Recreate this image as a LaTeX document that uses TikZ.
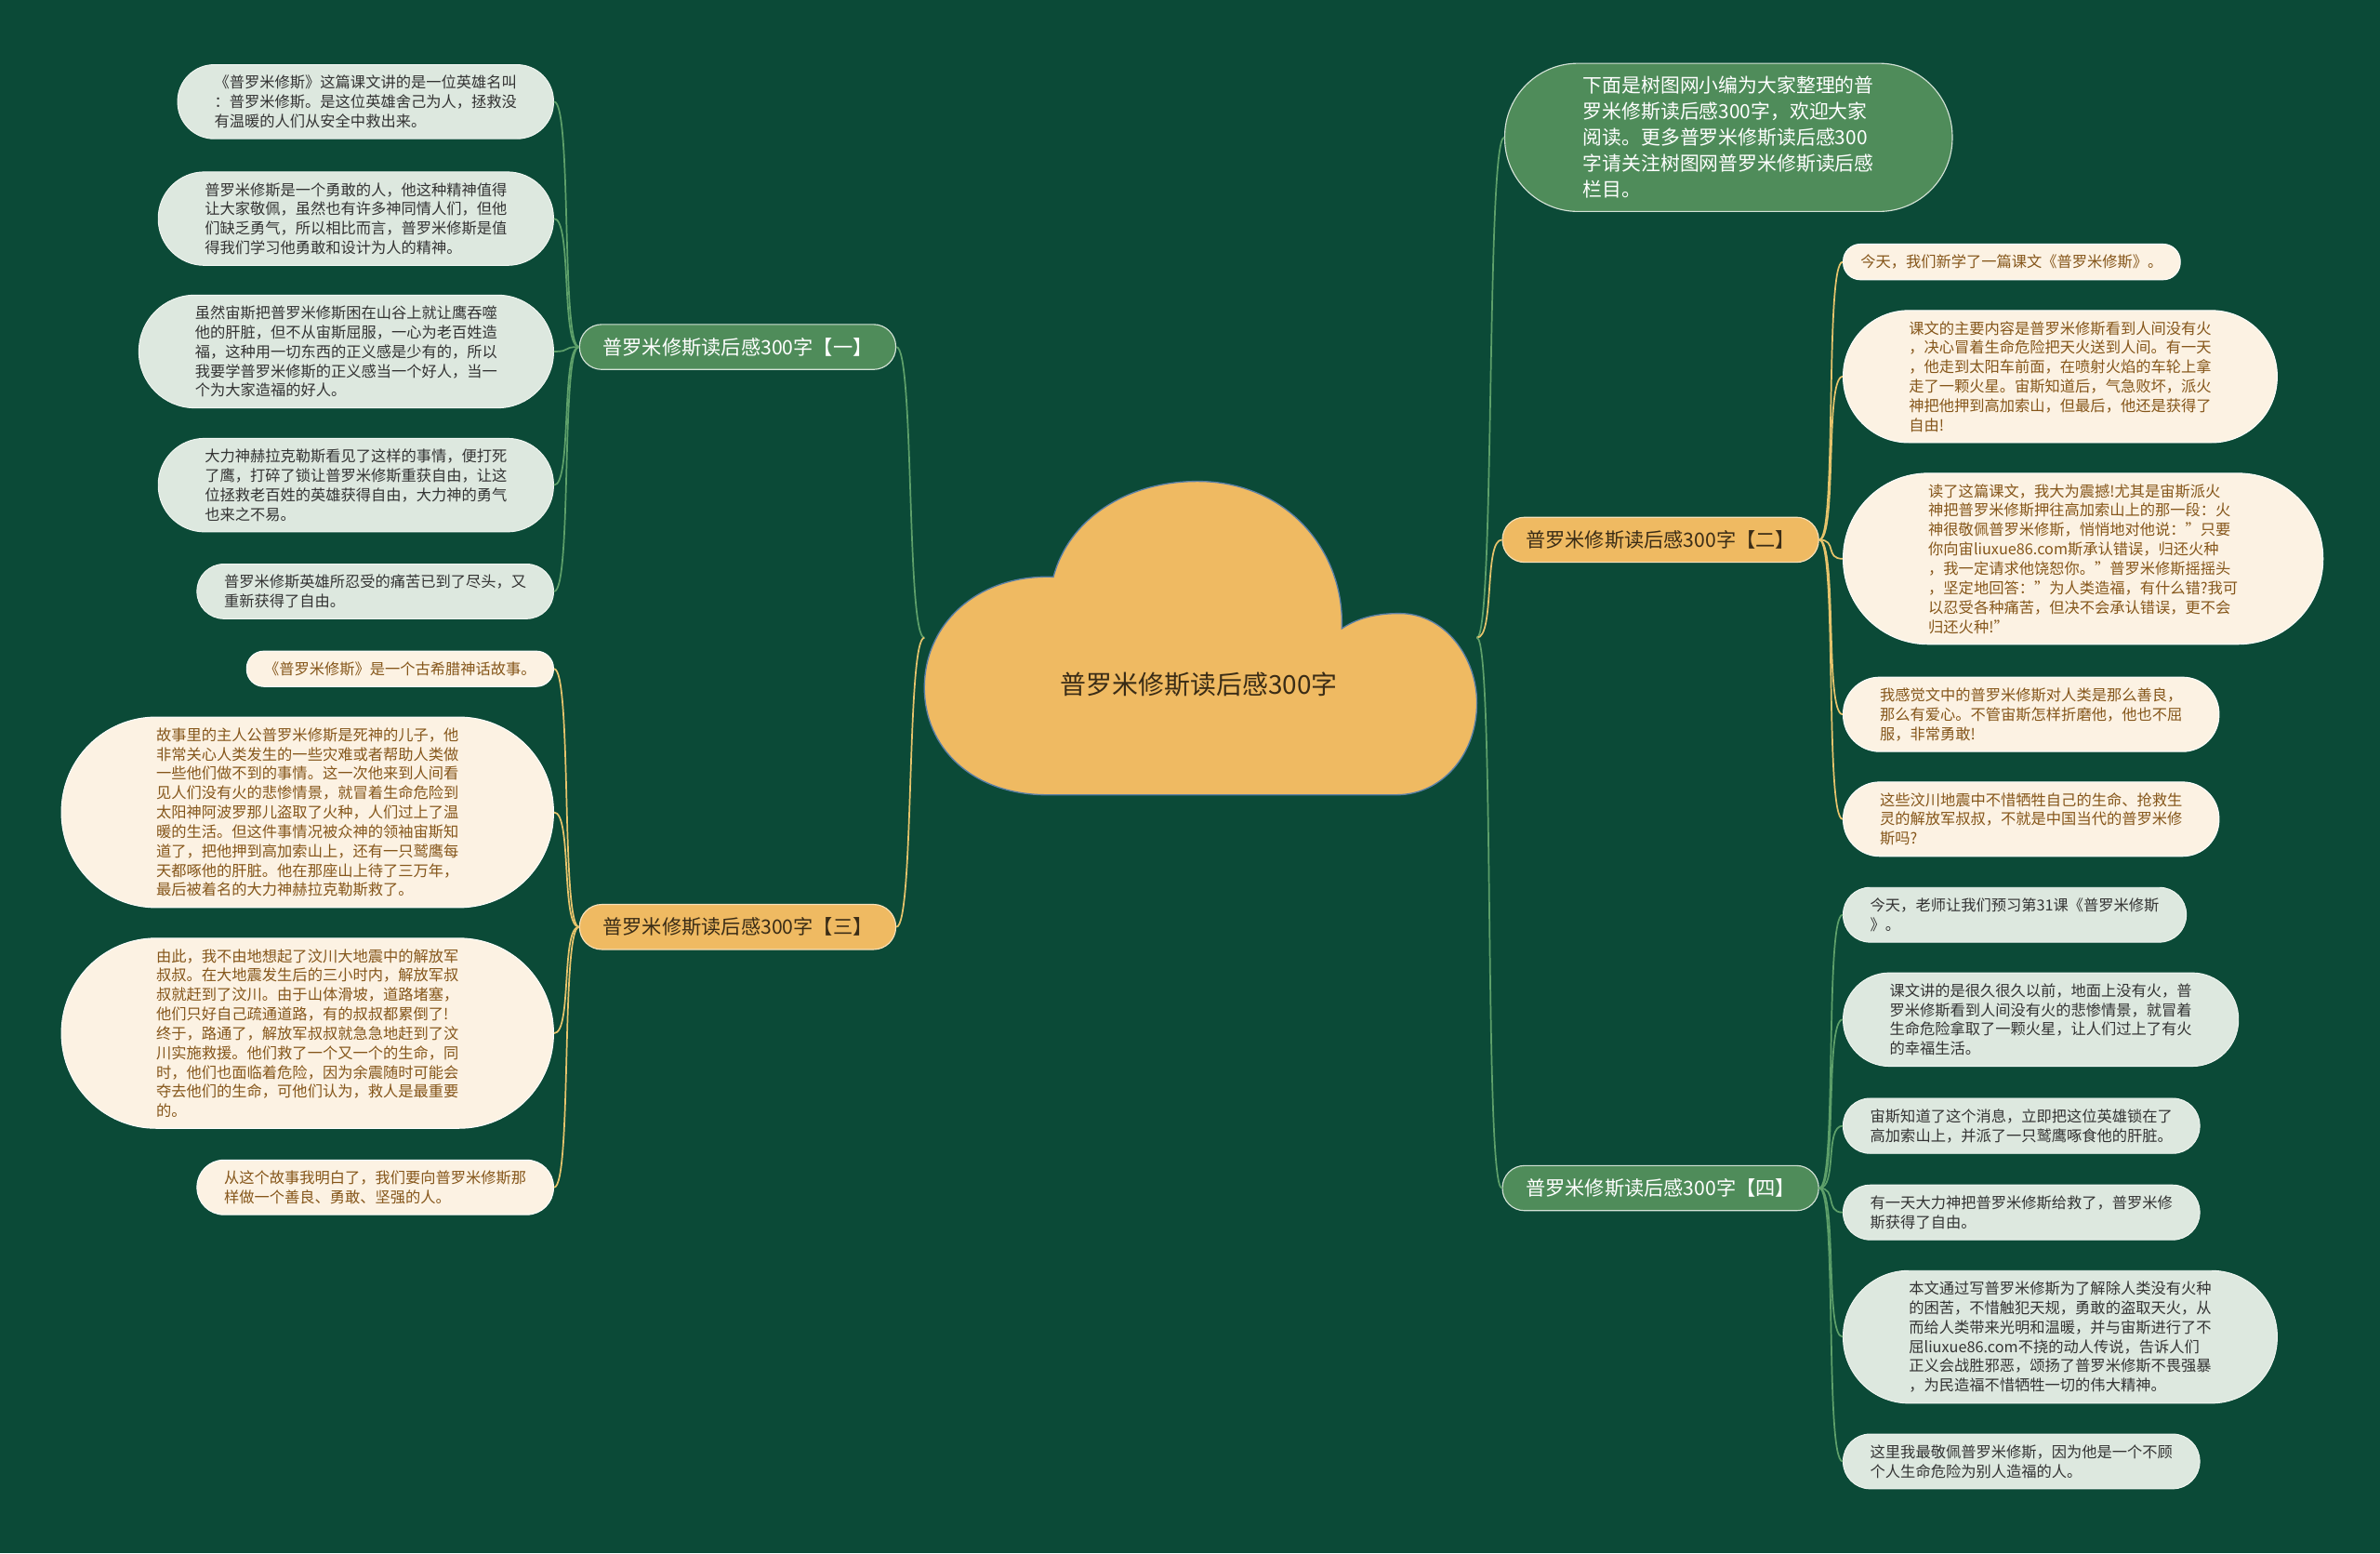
\documentclass[tikz,border=0pt]{standalone}
\usepackage{fontspec}
\setmainfont{Noto Sans CJK SC}
\usepackage{xcolor}
\usepackage{tikz}

\definecolor{bgdark}{HTML}{0B4A37}
\definecolor{nodegreen}{HTML}{4F8C5A}
\definecolor{leafgreen}{HTML}{DDE8DF}
\definecolor{leafcream}{HTML}{FCF2E3}
\definecolor{gold}{HTML}{EFBA62}
\definecolor{linegreen}{HTML}{5EA06A}
\definecolor{lineyellow}{HTML}{E7C46C}
\definecolor{inkbrown}{HTML}{85561A}
\definecolor{inkdark}{HTML}{3A2C16}
\definecolor{cloudedge}{HTML}{5A7FA6}

\begin{document}
\begin{tikzpicture}[
  x=0.3mm, y=-0.3mm,
  pill/.style    = {rounded corners={(#1-1)*1.914mm+3.4mm},
                    inner xsep={(#1-1)*1.914mm+3.45mm}},
  leaf/.style    = {draw, inner ysep=2.1mm, align=left,
                    font=\fontsize{8.5}{10.9}\selectfont, line width=0.5pt},
  leafg/.style   = {leaf, fill=leafgreen, draw=white!60!leafgreen, text=black!80},
  leafy/.style   = {leaf, fill=leafcream, draw=white, text=inkbrown},
  branch/.style  = {draw, rounded corners=4.4mm, minimum height=8.9mm, inner xsep=4.6mm,
                    inner ysep=0pt, font=\fontsize{11.1}{12}\selectfont, line width=0.6pt},
  branchg/.style = {branch, fill=nodegreen, draw=white!75!nodegreen, text=white},
  branchy/.style = {branch, fill=gold, draw=white!55!gold, text=inkdark},
  intro/.style   = {draw, rounded corners=14.5mm, inner xsep=15.5mm, inner ysep=2.6mm,
                    align=left, fill=nodegreen, draw=white!75!nodegreen, text=white,
                    line width=0.6pt, font=\fontsize{10.9}{14.6}\selectfont},
  gline/.style   = {draw=linegreen, line width=0.9pt},
  yline/.style   = {draw=lineyellow, line width=0.9pt}
]

% ── Canvas ───────────────────────────────────────────────────────────────────
\fill[bgdark] (0,0) rectangle (1568,1023);
\useasboundingbox (0,0) rectangle (1568,1023);

% ── Root cloud ───────────────────────────────────────────────────────────────
\filldraw[fill=gold, draw=cloudedge, line width=0.7pt]
  (690,523.5) .. controls (640,523.5) and (609,492) .. (609,453)
  .. controls (609,410) and (645,378) .. (694,380)
  .. controls (704,342) and (742,317) .. (789,317)
  .. controls (847,317) and (886,362) .. (884,414)
  .. controls (896,406) and (909,404) .. (922,404)
  .. controls (952,404) and (973,433) .. (973,463)
  .. controls (973,497) and (950,523.5) .. (920,523.5) -- cycle;
\node[font=\fontsize{14.6}{16}\selectfont, text=inkdark] (root) at (790,451) {普罗米修斯读后感300字};
\coordinate (root-w) at (609,420);
\coordinate (root-e) at (973,420);

% ── Branches ─────────────────────────────────────────────────────────────────
\node[branchg] (b1) at (486,228.5) {普罗米修斯读后感300字【一】};
\node[branchy] (b2) at (1094,355.5) {普罗米修斯读后感300字【二】};
\node[branchy] (b3) at (486,610.5) {普罗米修斯读后感300字【三】};
\node[branchg] (b4) at (1094,782.5) {普罗米修斯读后感300字【四】};
\node[intro, anchor=west] (intro) at (991,90.5)
  {下面是树图网小编为大家整理的普\\罗米修斯读后感300字，欢迎大家\\阅读。更多普罗米修斯读后感300\\字请关注树图网普罗米修斯读后感\\栏目。};

% ── Leaves of 【一】 ───────────────────────────────────────────────────────────
\node[leafg, pill=3, anchor=east] (l1a) at (365,67)
  {《普罗米修斯》这篇课文讲的是一位英雄名叫\\：普罗米修斯。是这位英雄舍己为人，拯救没\\有温暖的人们从安全中救出来。};
\node[leafg, pill=4, anchor=east] (l1b) at (365,144)
  {普罗米修斯是一个勇敢的人，他这种精神值得\\让大家敬佩，虽然也有许多神同情人们，但他\\们缺乏勇气，所以相比而言，普罗米修斯是值\\得我们学习他勇敢和设计为人的精神。};
\node[leafg, pill=5, anchor=east] (l1c) at (365,231.5)
  {虽然宙斯把普罗米修斯困在山谷上就让鹰吞噬\\他的肝脏，但不从宙斯屈服，一心为老百姓造\\福，这种用一切东西的正义感是少有的，所以\\我要学普罗米修斯的正义感当一个好人，当一\\个为大家造福的好人。};
\node[leafg, pill=4, anchor=east] (l1d) at (365,319.5)
  {大力神赫拉克勒斯看见了这样的事情，便打死\\了鹰，打碎了锁让普罗米修斯重获自由，让这\\位拯救老百姓的英雄获得自由，大力神的勇气\\也来之不易。};
\node[leafg, pill=2, anchor=east] (l1e) at (365,389.5)
  {普罗米修斯英雄所忍受的痛苦已到了尽头，又\\重新获得了自由。};

% ── Leaves of 【三】 ───────────────────────────────────────────────────────────
\node[leafy, pill=1, anchor=east] (l3a) at (365,440.5)
  {《普罗米修斯》是一个古希腊神话故事。};
\node[leafy, pill=9, anchor=east] (l3b) at (365,535)
  {故事里的主人公普罗米修斯是死神的儿子，他\\非常关心人类发生的一些灾难或者帮助人类做\\一些他们做不到的事情。这一次他来到人间看\\见人们没有火的悲惨情景，就冒着生命危险到\\太阳神阿波罗那儿盗取了火种，人们过上了温\\暖的生活。但这件事情况被众神的领袖宙斯知\\道了，把他押到高加索山上，还有一只鹫鹰每\\天都啄他的肝脏。他在那座山上待了三万年，\\最后被着名的大力神赫拉克勒斯救了。};
\node[leafy, pill=9, anchor=east] (l3c) at (365,680.5)
  {由此，我不由地想起了汶川大地震中的解放军\\叔叔。在大地震发生后的三小时内，解放军叔\\叔就赶到了汶川。由于山体滑坡，道路堵塞，\\他们只好自己疏通道路，有的叔叔都累倒了!\\终于，路通了，解放军叔叔就急急地赶到了汶\\川实施救援。他们救了一个又一个的生命，同\\时，他们也面临着危险，因为余震随时可能会\\夺去他们的生命，可他们认为，救人是最重要\\的。};
\node[leafy, pill=2, anchor=east] (l3d) at (365,782)
  {从这个故事我明白了，我们要向普罗米修斯那\\样做一个善良、勇敢、坚强的人。};

% ── Leaves of 【二】 ───────────────────────────────────────────────────────────
\node[leafy, pill=1, anchor=west] (r2a) at (1214,172.5)
  {今天，我们新学了一篇课文《普罗米修斯》。};
\node[leafy, pill=6, anchor=west] (r2b) at (1214,248)
  {课文的主要内容是普罗米修斯看到人间没有火\\，决心冒着生命危险把天火送到人间。有一天\\，他走到太阳车前面，在喷射火焰的车轮上拿\\走了一颗火星。宙斯知道后，气急败坏，派火\\神把他押到高加索山，但最后，他还是获得了\\自由!};
\node[leafy, pill=8, anchor=west] (r2c) at (1214,368)
  {读了这篇课文，我大为震撼!尤其是宙斯派火\\神把普罗米修斯押往高加索山上的那一段：火\\神很敬佩普罗米修斯，悄悄地对他说："只要\\你向宙liuxue86.com斯承认错误，归还火种\\，我一定请求他饶恕你。"普罗米修斯摇摇头\\，坚定地回答："为人类造福，有什么错?我可\\以忍受各种痛苦，但决不会承认错误，更不会\\归还火种!"};
\node[leafy, pill=3, anchor=west] (r2d) at (1214,470.5)
  {我感觉文中的普罗米修斯对人类是那么善良，\\那么有爱心。不管宙斯怎样折磨他，他也不屈\\服，非常勇敢!};
\node[leafy, pill=3, anchor=west] (r2e) at (1214,539.5)
  {这些汶川地震中不惜牺牲自己的生命、抢救生\\灵的解放军叔叔，不就是中国当代的普罗米修\\斯吗?};

% ── Leaves of 【四】 ───────────────────────────────────────────────────────────
\node[leafg, pill=2, anchor=west] (r4a) at (1214,602.5)
  {今天，老师让我们预习第31课《普罗米修斯\\》。};
\node[leafg, pill=4, anchor=west] (r4b) at (1214,671.5)
  {课文讲的是很久很久以前，地面上没有火，普\\罗米修斯看到人间没有火的悲惨情景，就冒着\\生命危险拿取了一颗火星，让人们过上了有火\\的幸福生活。};
\node[leafg, pill=2, anchor=west] (r4c) at (1214,741.5)
  {宙斯知道了这个消息，立即把这位英雄锁在了\\高加索山上，并派了一只鹫鹰啄食他的肝脏。};
\node[leafg, pill=2, anchor=west] (r4d) at (1214,798.5)
  {有一天大力神把普罗米修斯给救了，普罗米修\\斯获得了自由。};
\node[leafg, pill=6, anchor=west] (r4e) at (1214,880.5)
  {本文通过写普罗米修斯为了解除人类没有火种\\的困苦，不惜触犯天规，勇敢的盗取天火，从\\而给人类带来光明和温暖，并与宙斯进行了不\\屈liuxue86.com不挠的动人传说，告诉人们\\正义会战胜邪恶，颂扬了普罗米修斯不畏强暴\\，为民造福不惜牺牲一切的伟大精神。};
\node[leafg, pill=2, anchor=west] (r4f) at (1214,962.5)
  {这里我最敬佩普罗米修斯，因为他是一个不顾\\个人生命危险为别人造福的人。};

% ── Root connectors ──────────────────────────────────────────────────────────
\draw[gline] (root-w) .. controls +(-12,0) and +(12,0) .. (b1.east);
\draw[yline] (root-w) .. controls +(-12,0) and +(12,0) .. (b3.east);
\draw[gline] (root-e) .. controls +(12,0) and +(-12,0) .. (intro.west);
\draw[yline] (root-e) .. controls +(12,0) and +(-12,0) .. (b2.west);
\draw[gline] (root-e) .. controls +(12,0) and +(-12,0) .. (b4.west);

% ── Leaf connectors ──────────────────────────────────────────────────────────
\foreach \n in {l1a,l1b,l1c,l1d,l1e}
  \draw[gline] (b1.west) .. controls +(-12,0) and +(12,0) .. (\n.east);
\foreach \n in {l3a,l3b,l3c,l3d}
  \draw[yline] (b3.west) .. controls +(-12,0) and +(12,0) .. (\n.east);
\foreach \n in {r2a,r2b,r2c,r2d,r2e}
  \draw[yline] (b2.east) .. controls +(12,0) and +(-12,0) .. (\n.west);
\foreach \n in {r4a,r4b,r4c,r4d,r4e,r4f}
  \draw[gline] (b4.east) .. controls +(12,0) and +(-12,0) .. (\n.west);

\end{tikzpicture}
\end{document}
